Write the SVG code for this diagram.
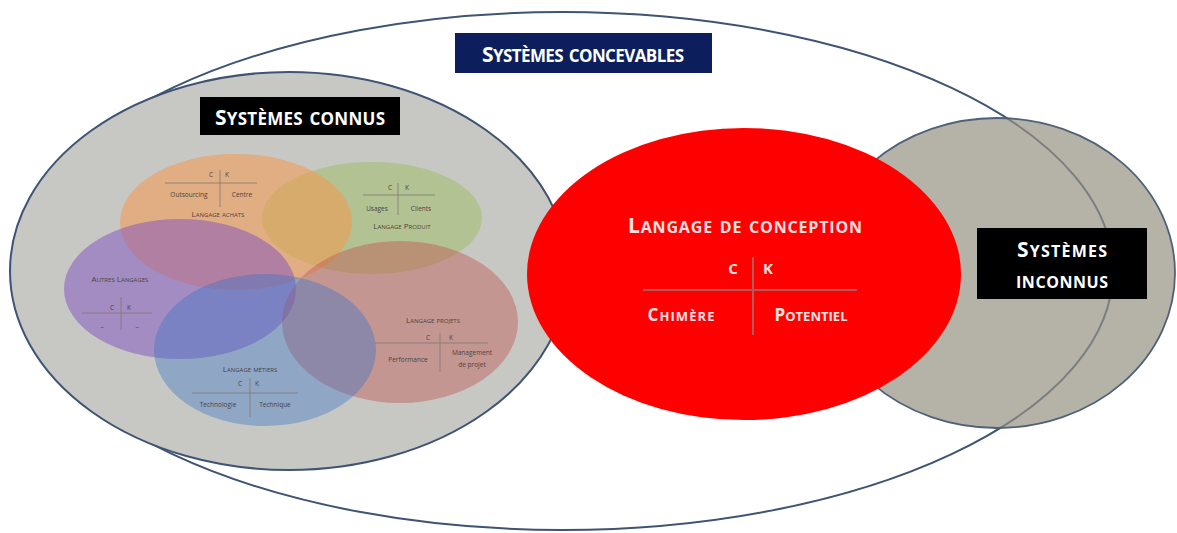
<svg xmlns="http://www.w3.org/2000/svg" width="1177" height="533" viewBox="0 0 1177 533">
<style>
.frame{stroke:#3f5373;stroke-width:2}
.title{font-family:"Open Sans","Liberation Sans",sans-serif;font-weight:700;font-variant:small-caps;fill:#ffffff;text-anchor:middle}
.redtxt{font-family:"Open Sans","Liberation Sans",sans-serif;font-weight:700;font-variant:small-caps;fill:#fbe0e0;text-anchor:middle}
.tiny{font-family:"Open Sans","Liberation Sans",sans-serif;font-size:6.5px;fill:#4a4440;text-anchor:middle}
.tinysc{font-family:"Open Sans","Liberation Sans",sans-serif;font-size:8px;font-variant:small-caps;fill:#4a4440;text-anchor:middle}
.div{stroke:#7d7873;stroke-width:0.8;fill:none}
.rdiv{stroke:#b05a5a;stroke-width:2;fill:none}
</style>
<rect width="1177" height="533" fill="#ffffff"/>
<g id="systemes-concevables">
<ellipse cx="562" cy="271" rx="551" ry="259" fill="#ffffff" class="frame"/>
</g>
<g id="systemes-connus">
<ellipse cx="289" cy="271" rx="279" ry="199" fill="#c7c8c3" class="frame"/>
</g>
<g id="langage-produit">
<ellipse cx="372" cy="218" rx="110" ry="56" fill="#9BBB59" fill-opacity="0.45"/>
<line class="div" x1="363" y1="195" x2="435" y2="195"/>
<line class="div" x1="398" y1="183" x2="398" y2="215"/>
<text class="tiny" x="390" y="190">C</text>
<text class="tiny" x="407" y="190">K</text>
<text class="tiny" x="377" y="211">Usages</text>
<text class="tiny" x="421" y="211">Clients</text>
<text class="tinysc" x="402" y="229">Langage Produit</text>
</g>
<g id="langage-achats">
<ellipse cx="236" cy="222" rx="116" ry="68" fill="#F79646" fill-opacity="0.52"/>
<line class="div" x1="165" y1="183" x2="257" y2="183"/>
<line class="div" x1="220" y1="170" x2="220" y2="207"/>
<text class="tiny" x="211" y="177">C</text>
<text class="tiny" x="227" y="177">K</text>
<text class="tiny" x="189" y="197">Outsourcing</text>
<text class="tiny" x="242" y="197">Centre</text>
<text class="tinysc" x="218" y="217">Langage achats</text>
</g>
<g id="autres-langages">
<ellipse cx="180" cy="289" rx="116" ry="70" fill="#7f4fbf" fill-opacity="0.5"/>
<line class="div" x1="82" y1="313" x2="152" y2="313"/>
<line class="div" x1="121" y1="297" x2="121" y2="330"/>
<text class="tinysc" x="120" y="282">Autres Langages</text>
<text class="tiny" x="112" y="310">C</text>
<text class="tiny" x="129" y="310">K</text>
<text class="tiny" x="102" y="329">–</text>
<text class="tiny" x="137" y="329">–</text>
</g>
<g id="langage-projets">
<ellipse cx="400" cy="322" rx="118" ry="81" fill="#C0504D" fill-opacity="0.42"/>
<line class="div" x1="375" y1="343" x2="488" y2="343"/>
<line class="div" x1="440" y1="333" x2="440" y2="372"/>
<text class="tinysc" x="433" y="323">Langage projets</text>
<text class="tiny" x="428" y="340">C</text>
<text class="tiny" x="451" y="340">K</text>
<text class="tiny" x="408" y="362">Performance</text>
<text class="tiny" x="472" y="355">Management</text>
<text class="tiny" x="472" y="367">de projet</text>
</g>
<g id="langage-metiers">
<ellipse cx="265" cy="350" rx="111" ry="76" fill="#3d74c8" fill-opacity="0.4"/>
<line class="div" x1="192" y1="393" x2="298" y2="393"/>
<line class="div" x1="250" y1="378" x2="250" y2="417"/>
<text class="tinysc" x="250" y="372">Langage métiers</text>
<text class="tiny" x="240" y="386">C</text>
<text class="tiny" x="257" y="386">K</text>
<text class="tiny" x="218" y="407">Technologie</text>
<text class="tiny" x="275" y="407">Technique</text>
</g>
<g id="systemes-inconnus">
<ellipse cx="997" cy="273" rx="178" ry="155" fill="#959183" fill-opacity="0.7" stroke="#4f6078" stroke-width="1.8"/>
<rect x="977" y="228" width="170" height="71" fill="#000000"/>
<text class="title" x="1062" y="257" font-size="23" textLength="90" lengthAdjust="spacing"><tspan font-size="21">S</tspan>ystèmes</text>
<text class="title" x="1062" y="288" font-size="23" textLength="92" lengthAdjust="spacing">inconnus</text>
</g>
<g id="langage-de-conception">
<ellipse cx="744" cy="274" rx="217" ry="146" fill="#ff0000"/>
<text class="redtxt" x="745" y="233" font-size="23" textLength="234" lengthAdjust="spacing"><tspan font-size="21">L</tspan>angage de conception</text>
<line class="rdiv" x1="643" y1="290" x2="857" y2="290"/>
<line class="rdiv" x1="753" y1="257" x2="753" y2="335"/>
<text class="redtxt" x="733" y="274" font-size="15">C</text>
<text class="redtxt" x="768" y="274" font-size="15">K</text>
<text class="redtxt" x="681" y="321" font-size="19" textLength="67" lengthAdjust="spacing"><tspan font-size="17">C</tspan>himère</text>
<text class="redtxt" x="811" y="321" font-size="19" textLength="73" lengthAdjust="spacing"><tspan font-size="17">P</tspan>otentiel</text>
</g>
<g id="label-concevables">
<rect x="455" y="33" width="257" height="40" fill="#0c1f5c"/>
<text class="title" x="583" y="62" font-size="24" textLength="202" lengthAdjust="spacing"><tspan font-size="21">S</tspan>ystèmes concevables</text>
</g>
<g id="label-connus">
<rect x="200" y="97" width="200" height="38" fill="#000000"/>
<text class="title" x="300" y="125" font-size="24" textLength="170" lengthAdjust="spacing"><tspan font-size="21">S</tspan>ystèmes connus</text>
</g>
<g id="connectors"></g>
</svg>
